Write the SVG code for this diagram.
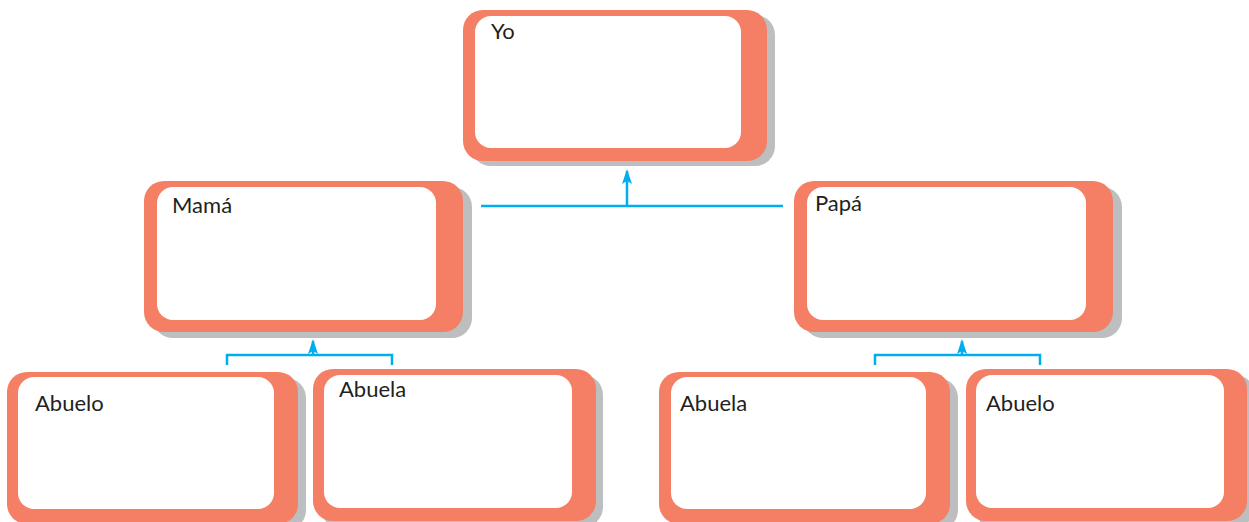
<svg xmlns="http://www.w3.org/2000/svg" width="1249" height="522" viewBox="0 0 1249 522">
<style>
.sh{fill:#BCBEC0}
.or{fill:#F47F64}
.wh{fill:#FFFFFF}
.t{font-family:Lato,"Liberation Sans",sans-serif;font-size:22px;fill:#231F20}
.c{stroke:#00AEEF;stroke-width:2.5;fill:none}
</style>
<defs>
<marker id="ah" markerWidth="15" markerHeight="10" refX="13" refY="5" orient="auto" markerUnits="userSpaceOnUse" viewBox="0 0 15 10">
<path d="M15 5 L0 0 L3 5 L0 10 Z" fill="#00AEEF"/>
</marker>
</defs>
<rect width="1249" height="522" fill="#FFFFFF"/>
<g id="yo">
<rect class="sh" x="471" y="15" width="304" height="151" rx="20"/>
<rect class="or" x="463" y="10" width="304" height="151" rx="20"/>
<rect class="wh" x="475" y="16" width="266" height="132" rx="16"/>
<text class="t" x="491" y="39">Yo</text>
</g>
<g id="mama">
<rect class="sh" x="153" y="187" width="319" height="151" rx="20"/>
<rect class="or" x="144" y="181" width="319" height="151" rx="20"/>
<rect class="wh" x="157" y="187" width="279" height="133" rx="16"/>
<text class="t" x="172" y="213">Mamá</text>
</g>
<g id="papa">
<rect class="sh" x="803" y="187" width="319" height="151" rx="20"/>
<rect class="or" x="794" y="181" width="319" height="151" rx="20"/>
<rect class="wh" x="807" y="187" width="279" height="133" rx="16"/>
<text class="t" x="815" y="211">Papá</text>
</g>
<g id="abuelo1">
<rect class="sh" x="15" y="378" width="291" height="152" rx="20"/>
<rect class="or" x="7" y="372" width="291" height="152" rx="20"/>
<rect class="wh" x="18" y="377" width="256" height="132" rx="16"/>
<text class="t" x="35" y="411">Abuelo</text>
</g>
<g id="abuela1">
<rect class="sh" x="320" y="375" width="283" height="152" rx="20"/>
<rect class="or" x="313" y="369" width="283" height="152" rx="20"/>
<rect class="wh" x="324" y="375" width="248" height="133" rx="16"/>
<text class="t" x="339" y="397">Abuela</text>
</g>
<g id="abuela2">
<rect class="sh" x="667" y="378" width="291" height="152" rx="20"/>
<rect class="or" x="659" y="372" width="291" height="152" rx="20"/>
<rect class="wh" x="671" y="377" width="255" height="132" rx="16"/>
<text class="t" x="680" y="411">Abuela</text>
</g>
<g id="abuelo2">
<rect class="sh" x="974" y="375" width="281" height="152" rx="20"/>
<rect class="or" x="966" y="369" width="281" height="152" rx="20"/>
<rect class="wh" x="976" y="375" width="248" height="133" rx="16"/>
<text class="t" x="986" y="411">Abuelo</text>
</g>
<g id="connectors">
<path class="c" d="M481 206 H783"/>
<path class="c" d="M627 206 V171" marker-end="url(#ah)"/>
<path class="c" d="M227 365 V355 H392 V365"/>
<path class="c" d="M313 355 V341" marker-end="url(#ah)"/>
<path class="c" d="M875 365 V355 H1040 V365"/>
<path class="c" d="M962 355 V341" marker-end="url(#ah)"/>
</g>
</svg>
